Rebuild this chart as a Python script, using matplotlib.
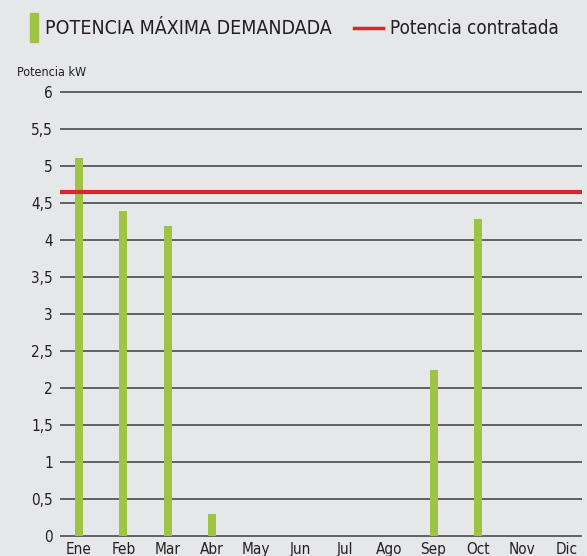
import matplotlib
matplotlib.use("Agg")
import matplotlib.pyplot as plt
from matplotlib.patches import Rectangle
from matplotlib.lines import Line2D

months = ['Ene', 'Feb', 'Mar', 'Abr', 'May', 'Jun', 'Jul', 'Ago', 'Sep', 'Oct', 'Nov', 'Dic']
max_power = [5.11, 4.39, 4.19, 0.30, 0, 0, 0, 0, 2.24, 4.28, 0, 0]
contracted = 4.65
y_ticks = [0, 0.5, 1, 1.5, 2, 2.5, 3, 3.5, 4, 4.5, 5, 5.5, 6]
y_labels = ['0', '0,5', '1', '1,5', '2', '2,5', '3', '3,5', '4', '4,5', '5', '5,5', '6']

bg = '#e6e7e9'
green = '#9dc543'
red = '#d9262b'
grid_col = '#4a4a4a'

plt.rcParams['font.family'] = ['DejaVu Sans']
plt.rcParams['font.stretch'] = 'condensed'
plt.rcParams['text.color'] = '#231f20'

W, H = 587, 556
fig = plt.figure(figsize=(W / 100, H / 100), dpi=100, facecolor=bg)

# axes placed in pixel terms: y=0 at 536px, 74px per unit
y0, y1 = -0.02, 6.02
top_px = 536 - 74 * y1
bot_px = 536 - 74 * y0
ax = fig.add_axes([60 / W, 1 - bot_px / H, 522 / W, (bot_px - top_px) / H])
ax.set_facecolor(bg)
for s in ax.spines.values():
    s.set_visible(False)

x = list(range(len(months)))
ax.bar(x, max_power, width=0.18, color=green, zorder=3)
ax.axhline(contracted, color=red, lw=3, zorder=4)

ax.set_xlim(-0.43, 11.35)
ax.set_ylim(y0, y1)
ax.set_yticks(y_ticks)
ax.set_yticklabels(y_labels)
ax.set_xticks(x)
ax.set_xticklabels(months)
ax.tick_params(axis='both', length=0, labelsize=11, colors='#231f20')
ax.tick_params(axis='y', pad=5)
ax.tick_params(axis='x', pad=3)
ax.yaxis.grid(True, color=grid_col, lw=1.2, zorder=1)
ax.set_axisbelow(True)

fig.text(17 / W, 1 - 72 / H, 'Potencia kW', fontsize=9, va='center', ha='left')

# legend at the top
fig.patches.append(Rectangle((30 / W, 1 - 42 / H), 8 / W, 29 / H,
                             transform=fig.transFigure, color=green))
fig.text(45 / W, 1 - 28 / H, 'POTENCIA MÁXIMA DEMANDADA', fontsize=14, va='center', ha='left')
fig.lines.append(Line2D([354 / W, 383 / W], [1 - 28 / H, 1 - 28 / H],
                        transform=fig.transFigure, color=red, lw=2.5))
fig.text(390 / W, 1 - 28 / H, 'Potencia contratada', fontsize=13.5, va='center', ha='left')

fig.savefig('out.png', dpi=100, facecolor=bg)
